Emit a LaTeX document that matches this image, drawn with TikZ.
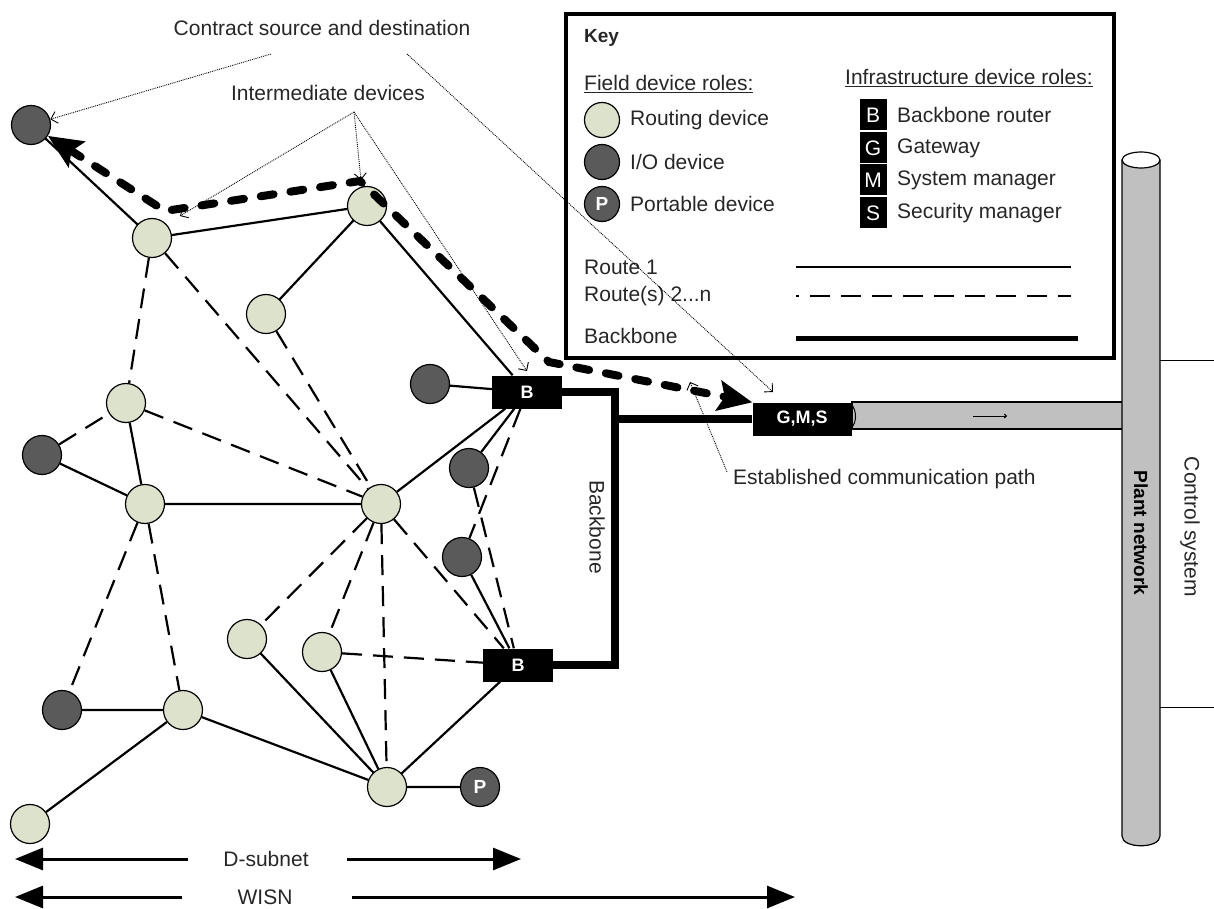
\documentclass[tikz,border=0pt]{standalone}
\usepackage{fontspec}
\setmainfont{Liberation Sans}
\usepackage{xcolor}
\usetikzlibrary{positioning,arrows.meta,calc}
\definecolor{rtfill}{RGB}{221,226,204}
\definecolor{iofill}{RGB}{90,90,90}
\definecolor{pipefill}{RGB}{192,192,192}

\begin{document}
\begin{tikzpicture}[x=1pt,y=-1pt, every node/.style={font=\fontsize{21}{25}\selectfont,text=black!85,inner sep=1pt},
  rt/.style={circle,draw,line width=1.2pt,fill=rtfill,minimum size=39pt,inner sep=0pt},
  io/.style={circle,draw,line width=1.2pt,fill=iofill,minimum size=39pt,inner sep=0pt,text=white,font=\fontsize{19}{22}\selectfont\bfseries},
  bb/.style={fill=black,text=white,minimum width=70pt,minimum height=33pt,inner sep=0pt,font=\fontsize{18}{21}\selectfont\bfseries},
  sq/.style={fill=black,text=white,minimum width=27pt,minimum height=31pt,inner sep=0pt},
  rone/.style={line width=2.2pt},
  rn/.style={line width=2.2pt,dash pattern=on 20pt off 11pt},
  bbone/.style={line width=8pt},
  cpath/.style={line width=8pt,line cap=round,dash pattern=on 13pt off 17pt,
    {Stealth[length=34pt,width=30pt,inset=6pt]}-{Stealth[length=34pt,width=30pt,inset=6pt]}},
  callout/.style={line width=0.9pt,densely dotted,-{Straight Barb[length=6pt,width=12pt]}},
  dim/.style={line width=3pt,-{Triangle[length=28pt,width=22pt]}},
  pipe/.style={line width=1.2pt,fill=pipefill}]
  \useasboundingbox (0,0) rectangle (1214,909);

  % key
  \draw[line width=3.5pt] (566,14) rectangle (1114,358);
  \node[anchor=west,font=\fontsize{19}{23}\selectfont\bfseries] (keyt) at (583,38) {Key};
  \node[anchor=west] (fdr) at (583,84) {\underline{Field device roles:}};
  \node[rt,minimum size=35pt] (krt) at (602,120) {};
  \node[io,minimum size=35pt] (kio) at (602,162) {};
  \node[io,minimum size=35pt] (kpd) at (602,204) {P};
  \node[anchor=west] (krtl) at (629,120) {Routing device};
  \node[anchor=west] (kiol) at (629,162) {I/O device};
  \node[anchor=west] (kpdl) at (629,204) {Portable device};
  \node[anchor=west] (idr) at (844,78) {\underline{Infrastructure device roles:}};
  \node[sq] (kb) at (873,115) {B};
  \node[sq] (kg) at (873,148) {G};
  \node[sq] (km) at (873,180) {M};
  \node[sq] (ks) at (873,213) {S};
  \node[anchor=west] (kbl) at (896,115) {Backbone router};
  \node[anchor=west] (kgl) at (896,148) {Gateway};
  \node[anchor=west] (kml) at (896,180) {System manager};
  \node[anchor=west] (ksl) at (896,213) {Security manager};
  \node[anchor=west] (kr1) at (583,267) {Route 1};
  \node[anchor=west] (krn) at (583,296) {Route(s) 2...n};
  \node[anchor=west] (kbb) at (583,336) {Backbone};
  \coordinate (l1a) at (796,267); \coordinate (l1b) at (1071,267);
  \coordinate (lna) at (796,296); \coordinate (lnb) at (1071,296);
  \coordinate (lba) at (796,338); \coordinate (lbb) at (1078,338);
  \draw[rone] (l1a) -- (l1b);
  \draw[rn,dash phase=17pt] (lna) -- (lnb);
  \draw[line width=5pt] (lba) -- (lbb);

  % plant network
  \draw[pipe] (852,402) rectangle (1123,429);
  \coordinate (fa) at (973,416); \coordinate (fb) at (1007,416);
  \draw[line width=1pt,-{Straight Barb[length=2pt,width=4pt]}] (fa) -- (fb);
  \draw[pipe] (1122,160) -- (1122,836) .. controls (1122,849) and (1160,849) .. (1160,836) -- (1160,160);
  \coordinate (cyltop) at (1141,160);
  \draw[line width=1.2pt,fill=white] (cyltop) ellipse [x radius=19, y radius=8];
  \node[rotate=-90,font=\fontsize{19}{23}\selectfont\bfseries,text=black] (plant) at (1141,533) {Plant network};
  \node[rotate=-90] (ctrl) at (1190,527) {Control system};
  \coordinate (ca) at (1160,360); \coordinate (cb) at (1214,360);
  \coordinate (cc) at (1160,707); \coordinate (cd) at (1214,707);
  \draw[line width=1pt] (ca) -- (cb) (cc) -- (cd);

  % field devices
  \node[io] (src) at (31,125) {};
  \node[rt] (r1) at (152,238) {};
  \node[rt] (r2) at (367,206) {};
  \node[rt] (r3) at (266,314) {};
  \node[rt] (r4) at (126,403) {};
  \node[io] (io2) at (42,455) {};
  \node[rt] (r5) at (145,504) {};
  \node[rt] (r6) at (381,504) {};
  \node[io] (io3) at (430,384) {};
  \node[io] (io4) at (469,468) {};
  \node[io] (io5) at (462,557) {};
  \node[rt] (r7) at (247,639) {};
  \node[rt] (r8) at (322,652) {};
  \node[io] (io6) at (62,710) {};
  \node[rt] (r9) at (183,710) {};
  \node[rt] (r10) at (30,824) {};
  \node[rt] (r11) at (387,787) {};
  \node[io] (pd) at (480,787) {P};
  \node[bb] (b1) at (527,392) {B};
  \node[bb] (b2) at (518,665) {B};
  \node[bb,minimum width=99pt] (gms) at (802,419) {G,M,S};
  \draw[line width=1pt] (851,404) .. controls (857,410) and (857,423) .. (851,428);

  \draw[rone] (src)--(r1) (r1)--(r2) (r2)--(r3) (r2)--(b1) (io3)--(b1) (b1)--(r6) (b1)--(io4)
    (r4)--(r5) (io2)--(r5) (r5)--(r6) (io5)--(b2) (io6)--(r9) (r9)--(r10) (r9)--(r11)
    (r7)--(r11) (r8)--(r11) (r11)--(b2) (r11)--(pd);
  \draw[rn] (r1)--(r4) (r1)--(r6) (r3)--(r6) (io2)--(r4) (r4)--(r6) (r5)--(io6) (r5)--(r9)
    (r6)--(r7) (r6)--(r8) (r6)--(r11) (r6)--(b2) (r8)--(b2) (b1)--(io5) (io4)--(b2);

  % backbone
  \coordinate (bbt) at (615,392);
  \coordinate (bbb) at (615,665);
  \coordinate (bbg) at (615,419);
  \draw[bbone] (b1.east) -- (bbt) -- (bbb) -- (b2.east);
  \draw[bbone] (bbg) -- (gms.west);
  \node[rotate=-90] (bblbl) at (597,527) {Backbone};

  % established path
  \coordinate (p1) at (165,211);
  \coordinate (p2) at (360,181);
  \coordinate (p3) at (549,362);
  \draw[cpath] (src) -- (p1) -- (p2) -- (p3) -- (gms.north west);

  % callouts
  \node (contract) at (322,28) {Contract source and destination};
  \node (inter) at (328,93) {Intermediate devices};
  \node[anchor=west] (estab) at (732,479) {Established communication path};
  \coordinate (cs1) at (271,54);
  \coordinate (cs2) at (407,54);
  \coordinate (ct) at (773,392);
  \coordinate (id0) at (354,112);
  \coordinate (it1) at (180,216);
  \coordinate (it2) at (361,180);
  \coordinate (it3) at (527,371);
  \coordinate (es) at (727,472);
  \coordinate (ep) at (690,382);
  \draw[callout] (cs1) -- (src);
  \draw[callout] (cs2) -- (ct);
  \draw[callout] (id0) -- (it1);
  \draw[callout] (id0) -- (it2);
  \draw[callout] (id0) -- (it3);
  \draw[callout] (es) -- (ep);

  % extents
  \node (dsub) at (266,859) {D-subnet};
  \node (wisn) at (265,897) {WISN};
  \coordinate (dla) at (188,859); \coordinate (dlb) at (15,859);
  \coordinate (dra) at (347,859); \coordinate (drb) at (521,859);
  \coordinate (wla) at (182,897); \coordinate (wlb) at (15,897);
  \coordinate (wra) at (352,897); \coordinate (wrb) at (795,897);
  \draw[dim] (dla) -- (dlb);
  \draw[dim] (dra) -- (drb);
  \draw[dim] (wla) -- (wlb);
  \draw[dim] (wra) -- (wrb);
\end{tikzpicture}
\end{document}
